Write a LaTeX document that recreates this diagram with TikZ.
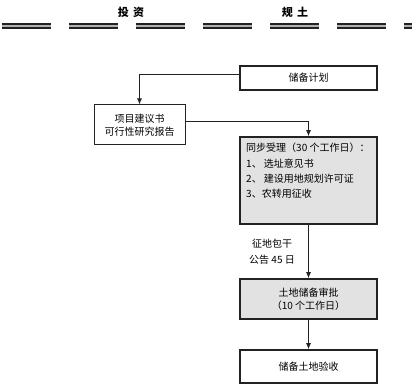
\documentclass[tikz,border=0pt]{standalone}
\usepackage{fontspec}
\setmainfont{Liberation Serif}
\newfontfamily\cjk{Noto Sans CJK SC}
\usetikzlibrary{arrows.meta}
\definecolor{boxgray}{HTML}{E2E2E2}
\definecolor{linedark}{HTML}{222222}
\tikzset{
  box/.style={draw=linedark, line width=1.6pt, minimum width=137pt, inner sep=2pt, font=\cjk\fontsize{10}{13}\selectfont, align=center},
  graybox/.style={box, fill=boxgray},
  thinbox/.style={draw=linedark, line width=1pt, inner sep=2pt, font=\cjk\fontsize{10}{13}\selectfont, align=center},
  arr/.style={draw=linedark, line width=0.9pt, -{Latex[length=6pt,width=5pt]}},
  lbl/.style={font=\cjk\fontsize{10}{16}\selectfont, align=center, inner sep=0pt},
  head/.style={font=\cjk\bfseries\fontsize{11}{13}\selectfont, inner sep=0pt}
}
\begin{document}
\begin{tikzpicture}[x=1pt,y=-1pt]
\useasboundingbox (0,0) rectangle (420,390);
% header
\draw[line width=6pt, draw=linedark, dash pattern=on 49pt off 18pt] (2,26) -- (412,26);
\draw[line width=1.8pt, draw=gray!60, dash pattern=on 49pt off 18pt] (2,26) -- (412,26);
\node[head] (h1) at (131,12) {投\hspace{0.4em}资};
\node[head] (h2) at (295,12) {规\hspace{0.4em}土};
% boxes
\node[box, minimum height=24pt] (plan) at (308.5,78) {储备计划};
\node[thinbox, minimum width=91pt, minimum height=40pt] (proj) at (139.5,125) {项目建议书\\可行性研究报告};
\node[graybox, minimum height=87pt] (sync) at (308.5,180.5) {};
\node[lbl, anchor=north west, align=left, font=\cjk\fontsize{10}{15.3}\selectfont] (synctext) at (246,143) {同步受理（30 个工作日）：\\1、 选址意见书\\2、 建设用地规划许可证\\3、农转用征收};
\node[graybox, minimum height=40pt] (appr) at (308.5,299) {土地储备审批\\（10 个工作日）};
\node[box, minimum height=33pt] (acc) at (308.5,366.5) {储备土地验收};
\node[lbl] (note) at (272,252) {征地包干\\公告 45 日};
% connectors
\draw[arr] ([yshift=4pt]plan.west) -| (proj.north);
\draw[arr] ([yshift=4pt]proj.east) -| (sync.north);
\draw[arr] (sync.south) -- (appr.north);
\draw[arr] (appr.south) -- (acc.north);
\end{tikzpicture}
\end{document}
